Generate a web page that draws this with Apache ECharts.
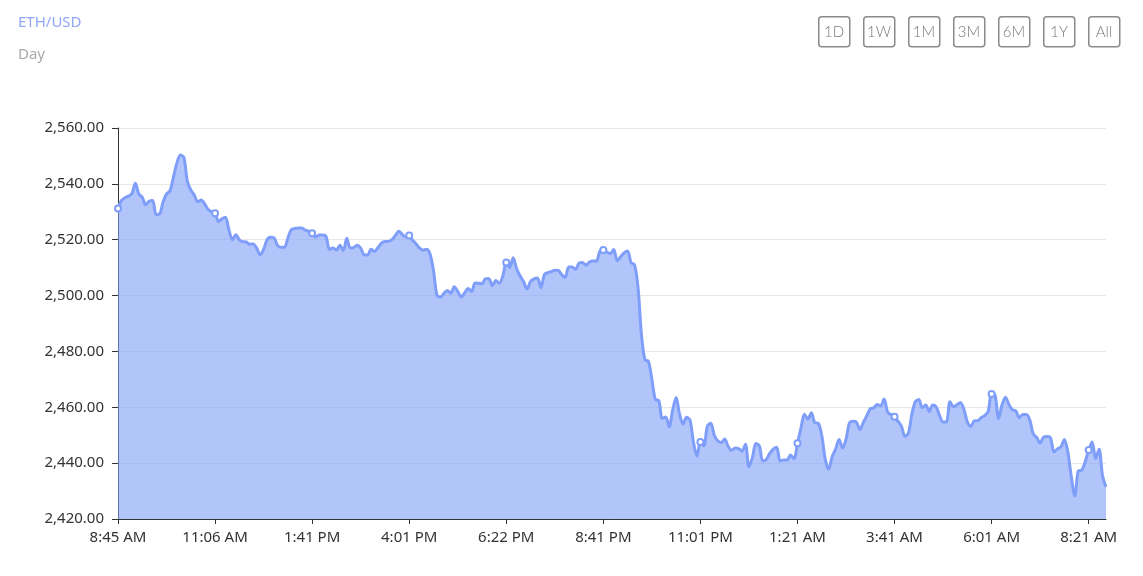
<!DOCTYPE html>
<html><head><meta charset="utf-8">
<script src="https://cdn.jsdelivr.net/npm/echarts@6/dist/echarts.min.js"></script>
<style>html,body{margin:0;padding:0;background:#fff}#c{width:1143px;height:576px}</style>
</head><body><div id="c"></div>
<script>
const tickLabels = ['8:45 AM','11:06 AM','1:41 PM','4:01 PM','6:22 PM','8:41 PM','11:01 PM','1:21 AM','3:41 AM','6:01 AM','8:21 AM'];
const rangeButtons = ['1D','1W','1M','3M','6M','1Y','All'];
const yTicks = [2420, 2560, 20]; // min, max, step

const prices = [
 2531.2,2534.1,2535.0,2535.6,2536.5,2540.2,2536.4,2535.2,2532.5,2533.8,
 2534.0,2529.0,2529.2,2533.5,2536.4,2537.5,2542.5,2547.5,2550.3,2549.5,
 2541.0,2537.8,2536.0,2533.6,2534.2,2532.8,2530.8,2530.0,2529.5,2526.5,
 2527.5,2528.0,2523.5,2520.0,2521.8,2520.0,2519.3,2519.2,2518.4,2518.5,
 2517.0,2514.6,2516.5,2520.0,2520.9,2520.7,2518.0,2517.3,2517.3,2520.5,
 2523.6,2524.0,2524.2,2524.2,2523.4,2523.0,2522.3,2520.9,2521.7,2521.7,
 2521.2,2516.6,2517.0,2516.3,2518.0,2516.1,2520.5,2517.0,2517.2,2518.0,
 2517.0,2514.6,2514.5,2516.6,2515.8,2517.2,2518.8,2519.4,2519.4,2520.0,
 2521.5,2523.0,2521.9,2521.0,2521.5,2519.8,2518.5,2517.0,2516.2,2516.6,
 2514.9,2509.0,2500.2,2499.4,2500.8,2501.8,2500.8,2503.2,2501.5,2499.5,
 2501.0,2502.5,2501.5,2504.5,2504.4,2504.2,2506.0,2506.0,2503.5,2505.4,
 2504.4,2507.0,2511.8,2510.0,2513.5,2509.6,2507.0,2505.0,2502.3,2505.0,
 2506.0,2506.3,2502.8,2507.5,2508.2,2508.6,2509.1,2509.0,2507.5,2506.5,
 2510.2,2510.2,2509.4,2511.6,2511.8,2510.9,2512.0,2512.4,2512.3,2515.9,
 2516.3,2515.6,2515.0,2516.5,2512.5,2513.9,2515.3,2516.0,2511.8,2511.0,
 2503.0,2486.0,2477.0,2476.5,2470.0,2462.8,2462.4,2456.0,2456.5,2453.0,
 2459.0,2463.5,2457.5,2454.0,2456.4,2455.5,2447.5,2442.5,2447.6,2446.2,
 2453.2,2454.3,2450.0,2448.0,2447.4,2448.6,2446.0,2444.6,2445.4,2445.2,
 2444.3,2446.8,2438.7,2442.0,2447.0,2446.2,2440.8,2441.3,2443.5,2445.0,
 2445.7,2440.8,2441.1,2441.1,2442.9,2441.6,2447.1,2452.5,2457.5,2455.8,
 2458.0,2454.5,2454.3,2450.0,2441.5,2437.8,2442.3,2445.0,2448.5,2445.4,
 2448.5,2454.4,2455.0,2454.7,2452.0,2454.6,2457.0,2459.5,2459.8,2461.0,
 2460.5,2463.0,2458.3,2457.4,2456.6,2455.0,2453.2,2449.6,2450.7,2457.5,
 2462.0,2462.8,2459.8,2460.8,2458.5,2460.8,2460.2,2457.0,2454.7,2454.8,
 2462.0,2460.2,2460.9,2461.7,2459.3,2454.8,2453.1,2455.1,2455.2,2456.3,
 2457.0,2458.5,2464.8,2464.3,2456.0,2460.8,2463.6,2461.0,2459.1,2458.7,
 2456.2,2457.4,2457.4,2455.5,2450.5,2449.2,2447.2,2449.3,2449.5,2449.0,
 2444.0,2445.1,2445.8,2448.5,2444.0,2435.0,2428.2,2437.2,2437.5,2440.5,
 2444.7,2447.6,2441.7,2445.0,2435.5,2431.5
];

const LABEL_STEP = 28;
const categories = prices.map((_, i) => (i % LABEL_STEP === 0 ? tickLabels[i / LABEL_STEP] : ''));

const FONT = "'Noto Sans', 'Open Sans', sans-serif";
const LINE = '#7f9ef9';

const buttons = rangeButtons.map((t, i) => ({
  type: 'group',
  left: 818 + i * 45,
  top: 16,
  children: [
    { type: 'rect', shape: { x: 0.75, y: 0.75, width: 31, height: 30, r: 3 },
      style: { fill: '#fff', stroke: '#8a8a8a', lineWidth: 1.5 } },
    { type: 'text', style: { text: t, x: 16, y: 16, align: 'center', verticalAlign: 'middle',
      fill: '#7a7a7a', font: "300 15px Lato, 'Noto Sans', sans-serif" } }
  ]
}));

const chart = echarts.init(document.getElementById('c'), null, { renderer: 'canvas' });
chart.setOption({
  animation: false,
  title: {
    text: 'ETH/USD', subtext: 'Day', left: 13, top: 10, itemGap: 17,
    textStyle: { color: '#8fa8f8', fontSize: 15, fontWeight: 'normal', fontFamily: FONT },
    subtextStyle: { color: '#aaaaaa', fontSize: 15, fontFamily: FONT }
  },
  graphic: buttons,
  grid: { left: 118, right: 37, top: 128, bottom: 57, containLabel: false },
  xAxis: {
    type: 'category', data: categories, boundaryGap: false,
    axisLine: { lineStyle: { color: '#333' } },
    axisTick: { interval: LABEL_STEP - 1, length: 5, lineStyle: { color: '#333' } },
    axisLabel: { interval: LABEL_STEP - 1, color: '#333', fontSize: 15, fontFamily: FONT, margin: 11 },
    splitLine: { show: false }
  },
  yAxis: {
    type: 'value', min: yTicks[0], max: yTicks[1], interval: yTicks[2],
    axisLine: { show: true, lineStyle: { color: '#333' } },
    axisTick: { show: true, length: 6, lineStyle: { color: '#333' } },
    axisLabel: { color: '#333', fontSize: 15, fontFamily: FONT, margin: 14,
      formatter: v => v.toLocaleString('en-US', { minimumFractionDigits: 2, maximumFractionDigits: 2 }) },
    splitLine: { lineStyle: { color: '#e8e8e8' } }
  },
  series: [{
    type: 'line', data: prices, smooth: 0.3,
    symbol: 'emptyCircle', symbolSize: 6, showSymbol: true, showAllSymbol: 'auto',
    lineStyle: { color: LINE, width: 3 },
    itemStyle: { color: LINE, borderWidth: 1 },
    areaStyle: { color: LINE, opacity: 0.6 }
  }]
});
</script>
</body></html>
